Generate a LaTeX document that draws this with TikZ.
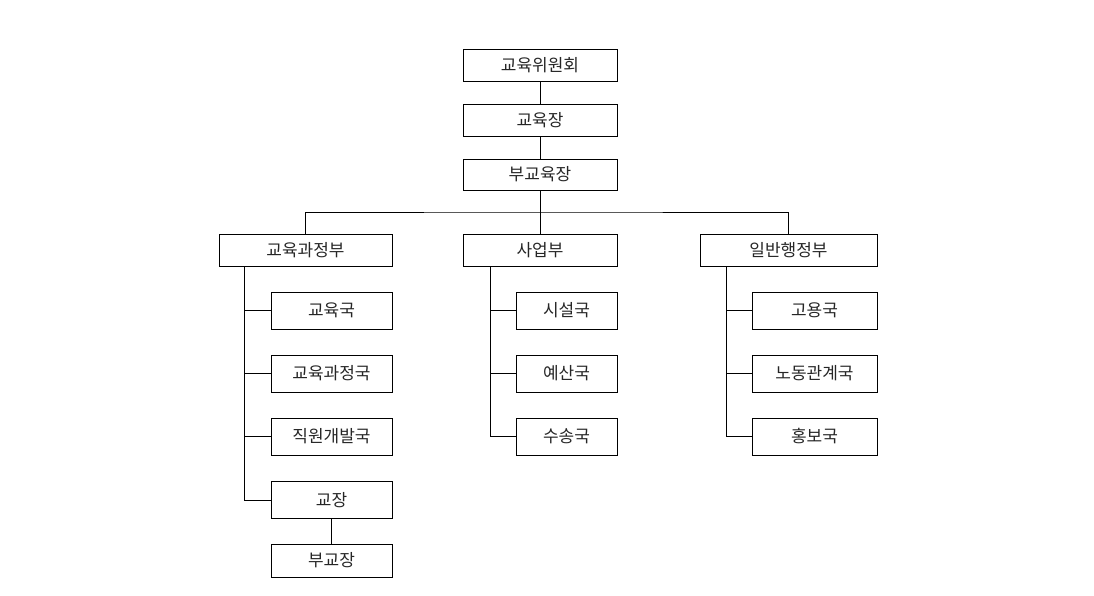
\documentclass[tikz,border=0pt]{standalone}
\usepackage{fontspec}
\setmainfont{Noto Sans CJK KR}
\begin{document}
\begin{tikzpicture}[x=1pt,y=-1pt,
  box/.style={draw=black,line width=0.9pt,inner sep=0pt,minimum height=32pt,font=\fontsize{17}{20}\selectfont,text=black!85},
  link/.style={draw=black,line width=0.9pt}]
\useasboundingbox (0,0) rectangle (1094,595);
% top chain
\node[box,minimum width=154pt] (com) at (540,65) {교육위원회};
\node[box,minimum width=154pt] (sup) at (540,120) {교육장};
\node[box,minimum width=154pt,minimum height=31pt] (dep) at (540,174.5) {부교육장};
% departments
\node[box,minimum width=173pt] (d1) at (305.5,250) {교육과정부};
\node[box,minimum width=154pt] (d2) at (540,250) {사업부};
\node[box,minimum width=177pt] (d3) at (788.5,250) {일반행정부};
% left children
\node[box,minimum width=121pt,minimum height=37pt] (l1) at (331.5,310.5) {교육국};
\node[box,minimum width=121pt,minimum height=37pt] (l2) at (331.5,373.5) {교육과정국};
\node[box,minimum width=121pt,minimum height=37pt] (l3) at (331.5,436.5) {직원개발국};
\node[box,minimum width=121pt,minimum height=37pt] (l4) at (331.5,500) {교장};
\node[box,minimum width=121pt,minimum height=33pt] (l5) at (331.5,560.5) {부교장};
% middle children
\node[box,minimum width=101pt,minimum height=37pt] (m1) at (566.5,310.5) {시설국};
\node[box,minimum width=101pt,minimum height=37pt] (m2) at (566.5,373.5) {예산국};
\node[box,minimum width=101pt,minimum height=37pt] (m3) at (566.5,436.5) {수송국};
% right children
\node[box,minimum width=125pt,minimum height=37pt] (r1) at (814.5,310.5) {고용국};
\node[box,minimum width=125pt,minimum height=37pt] (r2) at (814.5,373.5) {노동관계국};
\node[box,minimum width=125pt,minimum height=37pt] (r3) at (814.5,436.5) {홍보국};
% connectors
\draw[link] (com) -- (sup);
\draw[link] (sup) -- (dep);
\draw[link] (dep) -- (d2);
\coordinate (bus) at (540,212);
\draw[link] (d1.north) |- (bus) -| (d3.north);
\coordinate (tl) at (244,266);
\coordinate (tm) at (490,266);
\coordinate (tr) at (726,266);
\draw[link] (tl) |- (l4.west);
\draw[link] (tl |- l1) -- (l1.west);
\draw[link] (tl |- l2) -- (l2.west);
\draw[link] (tl |- l3) -- (l3.west);
\draw[link] (l4) -- (l5);
\draw[link] (tm) |- (m3.west);
\draw[link] (tm |- m1) -- (m1.west);
\draw[link] (tm |- m2) -- (m2.west);
\draw[link] (tr) |- (r3.west);
\draw[link] (tr |- r1) -- (r1.west);
\draw[link] (tr |- r2) -- (r2.west);
\end{tikzpicture}
\end{document}
